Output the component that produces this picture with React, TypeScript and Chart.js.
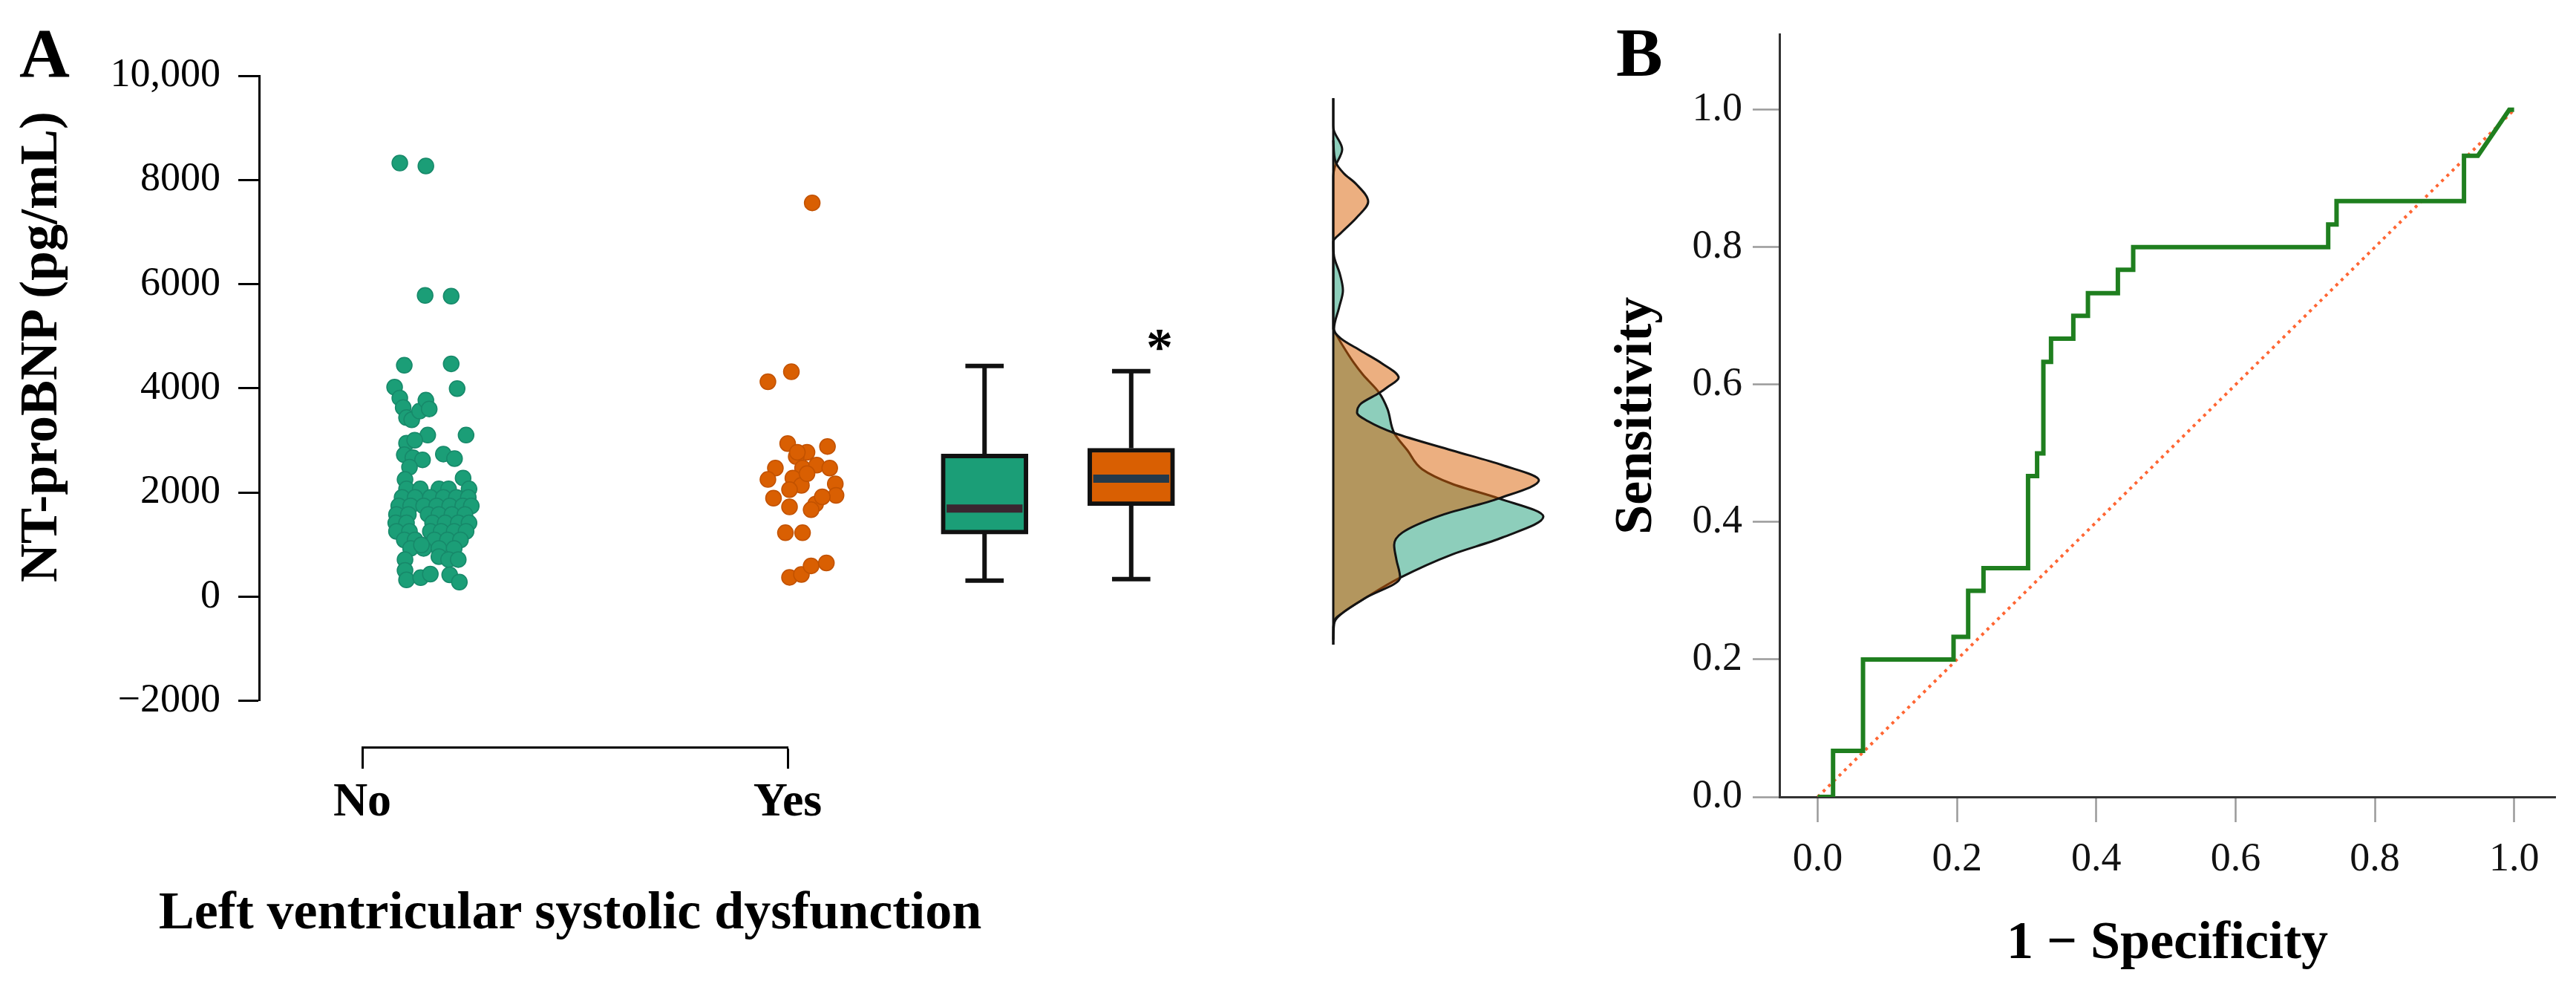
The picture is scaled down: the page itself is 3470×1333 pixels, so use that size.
import React, { useEffect, useRef } from 'react';
import { Chart, registerables } from 'chart.js';

Chart.register(...registerables);

// ---------------- data ----------------
const categories = ['No', 'Yes'];

// NT-proBNP (pg/mL), group "No"
const noValues = [
  8324, 8268, 5782, 5768, 4441, 4469, 4022, 3994, 3813, 3631, 3436, 3394, 3561, 3771, 3603,
  3101, 3101, 2947, 3003, 2723, 2668, 2626, 2486, 2737, 2650, 2249, 2277,
  2067, 2067, 2067, 2067, 2067,
  1904, 1904, 1904, 1904, 1904, 1904,
  1741, 1741, 1741, 1741, 1741, 1741, 1741,
  1578, 1578, 1578, 1578, 1578, 1578,
  1415, 1415, 1415, 1415, 1415, 1415,
  1253, 1253, 1253, 1253, 1253, 1253,
  1089, 1089, 1089, 1089, 1089,
  926, 926, 926, 926,
  712, 503, 321, 363, 433, 768, 712, 712, 419, 279, 992,
];
// horizontal jitter of each "No" point (category units)
const noJitter = [
  -0.084, -0.014, -0.016, 0.054, -0.072, 0.054, -0.098, 0.07, -0.084, -0.075, -0.066, -0.052, -0.031, -0.014, -0.005,
  -0.009, 0.094, -0.066, -0.044, -0.072, -0.049, -0.023, -0.058, 0.033, 0.063, -0.07, 0.086,
  -0.066, -0.029, 0.021, 0.047, 0.102,
  -0.078, -0.043, -0.002, 0.033, 0.068, 0.1,
  -0.087, -0.055, -0.02, 0.015, 0.05, 0.085, 0.108,
  -0.093, -0.061, -0.008, 0.021, 0.056, 0.091,
  -0.095, -0.066, 0.004, 0.038, 0.073, 0.102,
  -0.093, -0.058, -0.002, 0.027, 0.062, 0.094,
  -0.072, -0.043, 0.009, 0.044, 0.079,
  -0.055, -0.02, 0.021, 0.062,
  -0.07, -0.07, -0.066, -0.028, -0.002, 0.021, 0.047, 0.073, 0.05, 0.076, -0.026,
];

// NT-proBNP (pg/mL), group "Yes"
const yesValues = [
  7560, 4126, 4318, 2939, 2772, 2883, 2469, 2249, 2690, 2469, 2524, 2469, 2277, 2137, 2054,
  2165, 1944, 1890, 1723, 1778, 1916, 1668, 1226, 1226, 370, 426, 591, 647, 2772, 2360,
];
const yesJitter = [
  0.024, -0.095, -0.032, -0.042, 0.01, 0.065, -0.075, -0.095, -0.019, -0.002, 0.036, 0.071, -0.028, -0.005, -0.037,
  0.086, 0.088, -0.08, -0.037, 0.033, 0.051, 0.021, -0.048, -0.002, -0.037, -0.005, 0.021, 0.062, -0.016, 0.01,
];

// box plot statistics: [lower whisker, Q1, median, Q3, upper whisker]
const noBox = [307, 1201, 1690, 2737, 4427];
const yesBox = [335, 1746, 2263, 2849, 4330];

// density profiles (value grid, relative density)
const densNoGrid = [-922, -587, -447, -307, -28, 363, 810, 1131, 1536, 1885, 2165, 2444, 2807, 3142, 3603, 3911, 4260, 4483, 4721, 4958, 5140, 5559, 5880, 6187, 6536, 6816, 8073, 8240, 8589, 8939, 9050, 9567];
const densNo = [0, 0, 0.03, 0.13, 0.43, 0.9, 1.6, 2.27, 2.83, 2.23, 1.6, 1.2, 1.0, 0.82, 0.73, 0.62, 0.4, 0.28, 0.17, 0.07, 0.01, 0.08, 0.13, 0.09, 0.01, 0, 0, 0.02, 0.12, 0.01, 0, 0];
const densYesGrid = [-830, -447, -307, -28, 363, 712, 991, 1229, 1550, 1885, 2235, 2528, 2807, 3142, 3366, 3534, 3701, 3911, 4022, 4204, 4483, 4721, 4958, 5140, 6816, 6991, 7270, 7584, 7919, 8129, 8352, 8760];
const densYes = [0, 0.02, 0.13, 0.43, 0.9, 0.85, 0.82, 0.93, 1.43, 2.23, 2.77, 2.27, 1.6, 0.82, 0.47, 0.32, 0.37, 0.62, 0.73, 0.88, 0.65, 0.37, 0.1, 0, 0, 0.11, 0.31, 0.47, 0.31, 0.14, 0.03, 0];

const yTicksA = [-2000, 0, 2000, 4000, 6000, 8000, 10000];
const yTickLabelsA = ['\u22122000', '0', '2000', '4000', '6000', '8000', '10,000'];

// ROC curve vertices
const rocFpr = [0, 0.022, 0.022, 0.065, 0.065, 0.195, 0.195, 0.216, 0.216, 0.238, 0.238, 0.302, 0.302, 0.315, 0.315, 0.324, 0.324, 0.335, 0.335, 0.367, 0.367, 0.388, 0.388, 0.431, 0.431, 0.453, 0.453, 0.733, 0.733, 0.745, 0.745, 0.928, 0.928, 0.948, 0.993, 1.0];
const rocTpr = [0, 0, 0.067, 0.067, 0.2, 0.2, 0.233, 0.233, 0.3, 0.3, 0.333, 0.333, 0.467, 0.467, 0.5, 0.5, 0.633, 0.633, 0.667, 0.667, 0.7, 0.7, 0.733, 0.733, 0.767, 0.767, 0.8, 0.8, 0.833, 0.833, 0.867, 0.867, 0.933, 0.933, 1.0, 1.0];
const refLine = [0, 1];
const rocTicks = [0, 0.2, 0.4, 0.6, 0.8, 1.0];
const rocTickLabels = ['0.0', '0.2', '0.4', '0.6', '0.8', '1.0'];

// ---------------- layout / style constants ----------------
const FONT = "'Liberation Serif', 'Times New Roman', Times, serif";
const GREEN = '#1B9E77';
const ORANGE = '#D95F02';
const BOX_POS = [2.487, 2.881];
const BOX_HALF = 0.102;
const CAP_HALF = 0.0515;

function whiskerPoints(s: number[], p: number) {
  return [
    { x: p, y: s[4] }, { x: p, y: s[3] }, { x: p, y: null },
    { x: p, y: s[1] }, { x: p, y: s[0] }, { x: p, y: null },
    { x: p - CAP_HALF, y: s[4] }, { x: p + CAP_HALF, y: s[4] }, { x: p, y: null },
    { x: p - CAP_HALF, y: s[0] }, { x: p + CAP_HALF, y: s[0] },
  ];
}

function configA(): any {
  const dMin = Math.min(densNoGrid[0], densYesGrid[0]);
  const dMax = Math.max(densNoGrid[densNoGrid.length - 1], densYesGrid[densYesGrid.length - 1]);
  return {
    type: 'scatter',
    data: {
      datasets: [
        {
          type: 'scatter', label: categories[0],
          data: noValues.map((v, i) => ({ x: 1 + noJitter[i], y: v })),
          pointRadius: 10.5, backgroundColor: GREEN, borderColor: '#17896a', borderWidth: 1.5, order: 1,
        },
        {
          type: 'scatter', label: categories[1],
          data: yesValues.map((v, i) => ({ x: 2 + yesJitter[i], y: v })),
          pointRadius: 10.5, backgroundColor: ORANGE, borderColor: '#c25200', borderWidth: 1.5, order: 1,
        },
        {
          type: 'line', data: whiskerPoints(noBox, BOX_POS[0]),
          borderColor: '#111', borderWidth: 6, pointRadius: 0, borderCapStyle: 'butt', order: 4,
        },
        {
          type: 'line', data: whiskerPoints(yesBox, BOX_POS[1]),
          borderColor: '#111', borderWidth: 6, pointRadius: 0, borderCapStyle: 'butt', order: 4,
        },
        {
          type: 'bar',
          data: [
            { x: BOX_POS[0], y: [noBox[1], noBox[3]] },
            { x: BOX_POS[1], y: [yesBox[1], yesBox[3]] },
          ],
          backgroundColor: [GREEN, ORANGE], borderColor: '#111', borderWidth: 6,
          borderSkipped: false, barThickness: 117, grouped: false, order: 3,
        },
        {
          type: 'line',
          data: [{ x: BOX_POS[0] - BOX_HALF, y: noBox[2] }, { x: BOX_POS[0] + BOX_HALF, y: noBox[2] }],
          borderColor: '#3a2630', borderWidth: 11, pointRadius: 0, order: 2,
        },
        {
          type: 'line',
          data: [{ x: BOX_POS[1] - BOX_HALF, y: yesBox[2] }, { x: BOX_POS[1] + BOX_HALF, y: yesBox[2] }],
          borderColor: '#24394a', borderWidth: 11, pointRadius: 0, order: 2,
        },
        {
          type: 'line', xAxisID: 'xd', yAxisID: 'y', indexAxis: 'y',
          data: densNoGrid.map((v, i) => ({ x: densNo[i], y: v })),
          fill: 'origin', backgroundColor: 'rgba(27,158,119,0.5)', borderColor: '#141414',
          borderWidth: 3, pointRadius: 0, cubicInterpolationMode: 'monotone', order: 7,
        },
        {
          type: 'line', xAxisID: 'xd', yAxisID: 'y', indexAxis: 'y',
          data: densYesGrid.map((v, i) => ({ x: densYes[i], y: v })),
          fill: 'origin', backgroundColor: 'rgba(217,95,2,0.5)', borderColor: '#141414',
          borderWidth: 3, pointRadius: 0, cubicInterpolationMode: 'monotone', order: 6,
        },
        {
          type: 'line', xAxisID: 'xd', yAxisID: 'y',
          data: [{ x: 0, y: dMin }, { x: 0, y: dMax }],
          borderColor: '#111', borderWidth: 3, pointRadius: 0, order: 5,
        },
      ],
    },
    options: {
      animation: false,
      responsive: false,
      layout: { padding: { left: 0, top: 102, right: 20, bottom: 38 } },
      plugins: { legend: { display: false }, tooltip: { enabled: false } },
      scales: {
        x: { type: 'linear', display: false, min: 0.7574, max: 3.8307 },
        xd: { type: 'linear', axis: 'x', display: false, min: -14.47, max: 3.14 },
        y: {
          type: 'linear', min: -2000, max: 10000,
          afterBuildTicks: (s: any) => { s.ticks = yTicksA.map((v) => ({ value: v })); },
          afterFit: (s: any) => { s.width = 349; },
          ticks: {
            callback: (_v: any, i: number) => yTickLabelsA[i],
            font: { family: FONT, size: 54 }, color: '#000', padding: 24,
          },
          grid: { display: true, drawOnChartArea: false, drawTicks: true, tickLength: 28, tickColor: '#000', tickWidth: 3 },
          border: { display: true, color: '#000', width: 3 },
        },
      },
    },
  };
}

function configBracket(): any {
  return {
    type: 'scatter',
    data: { datasets: [] },
    options: {
      animation: false,
      responsive: false,
      layout: { padding: { left: 88, right: 89, top: 10, bottom: 0 } },
      plugins: { legend: { display: false }, tooltip: { enabled: false } },
      scales: {
        x: {
          type: 'linear', min: 1, max: 2,
          afterBuildTicks: (s: any) => { s.ticks = categories.map((_c, i) => ({ value: i + 1 })); },
          afterFit: (s: any) => { s.height = 144; },
          ticks: {
            callback: (_v: any, i: number) => categories[i],
            font: { family: FONT, size: 64, weight: 'bold' }, color: '#000', padding: 8,
            maxRotation: 0, autoSkip: false,
          },
          grid: { display: true, drawOnChartArea: false, drawTicks: true, tickLength: 29, tickColor: '#000', tickWidth: 3 },
          border: { display: true, color: '#000', width: 3 },
        },
        y: { type: 'linear', display: false, min: 0, max: 1 },
      },
    },
  };
}

function configB(): any {
  return {
    type: 'scatter',
    data: {
      datasets: [
        {
          type: 'line', data: rocFpr.map((x, i) => ({ x, y: rocTpr[i] })),
          borderColor: '#1F7F1F', borderWidth: 6, pointRadius: 0, tension: 0,
          borderJoinStyle: 'miter', order: 1,
        },
        {
          type: 'line', data: refLine.map((v) => ({ x: v, y: v })),
          borderColor: '#FF6633', borderWidth: 4, borderDash: [4, 6], pointRadius: 0, order: 2,
        },
      ],
    },
    options: {
      animation: false,
      responsive: false,
      layout: { padding: { left: 0, top: 24, right: 28, bottom: 0 } },
      plugins: { legend: { display: false }, tooltip: { enabled: false } },
      scales: {
        x: {
          type: 'linear', min: -0.055, max: 1.059,
          afterBuildTicks: (s: any) => { s.ticks = rocTicks.map((v) => ({ value: v })); },
          afterFit: (s: any) => { s.height = 260; },
          ticks: {
            callback: (_v: any, i: number) => rocTickLabels[i],
            font: { family: FONT, size: 54 }, color: '#111', padding: 18, maxRotation: 0, autoSkip: false,
          },
          grid: { display: true, drawOnChartArea: false, drawTicks: true, tickLength: 34, tickColor: '#9a9a9a', tickWidth: 2.5 },
          border: { display: true, color: '#333', width: 3 },
          title: {
            display: true, text: '1 \u2212 Specificity', color: '#000',
            font: { family: FONT, size: 72, weight: 'bold' }, padding: { top: 0, bottom: 18 },
          },
        },
        y: {
          type: 'linear', min: 0, max: 1.1096,
          afterBuildTicks: (s: any) => { s.ticks = rocTicks.map((v) => ({ value: v })); },
          afterFit: (s: any) => { s.width = 277; },
          ticks: {
            callback: (_v: any, i: number) => rocTickLabels[i],
            font: { family: FONT, size: 54 }, color: '#111', padding: 14,
          },
          grid: { display: true, drawOnChartArea: false, drawTicks: true, tickLength: 36, tickColor: '#9a9a9a', tickWidth: 2.5 },
          border: { display: true, color: '#333', width: 3 },
          title: {
            display: true, text: 'Sensitivity', color: '#000',
            font: { family: FONT, size: 72, weight: 'bold' }, padding: { top: 42, bottom: 0 },
          },
        },
      },
    },
  };
}

const textBase: React.CSSProperties = {
  position: 'absolute',
  fontFamily: FONT,
  fontWeight: 'bold',
  color: '#000',
  whiteSpace: 'nowrap',
};

export default function App() {
  const refA = useRef<HTMLCanvasElement>(null);
  const refBr = useRef<HTMLCanvasElement>(null);
  const refB = useRef<HTMLCanvasElement>(null);

  useEffect(() => {
    const charts = [
      new Chart(refA.current as HTMLCanvasElement, configA()),
      new Chart(refBr.current as HTMLCanvasElement, configBracket()),
      new Chart(refB.current as HTMLCanvasElement, configB()),
    ];
    return () => charts.forEach((c) => c.destroy());
  }, []);

  return (
    <div style={{ position: 'absolute', left: 0, top: 0, width: 3470, height: 1333, background: '#fff', overflow: 'hidden' }}>
      <canvas ref={refA} width={2130} height={1000} style={{ position: 'absolute', left: 0, top: 0 }} />
      <canvas ref={refBr} width={750} height={200} style={{ position: 'absolute', left: 400, top: 950 }} />
      <canvas ref={refB} width={1350} height={1333} style={{ position: 'absolute', left: 2120, top: 0 }} />

      <div style={{ ...textBase, left: 26, top: 24, fontSize: 94, lineHeight: '94px' }}>A</div>
      <div style={{ ...textBase, left: 2177, top: 23, fontSize: 94, lineHeight: '94px' }}>B</div>
      <div
        style={{
          ...textBase, left: 52, top: 467, fontSize: 72, lineHeight: '72px',
          transform: 'translate(-50%, -50%) rotate(-90deg)',
        }}
      >
        NT-proBNP (pg/mL)
      </div>
      <div style={{ ...textBase, left: 768, top: 1190, fontSize: 72, lineHeight: '72px', transform: 'translateX(-50%)' }}>
        Left ventricular systolic dysfunction
      </div>
      <div style={{ ...textBase, left: 1562, top: 431, fontSize: 72, lineHeight: '72px', transform: 'translateX(-50%)' }}>*</div>
    </div>
  );
}
